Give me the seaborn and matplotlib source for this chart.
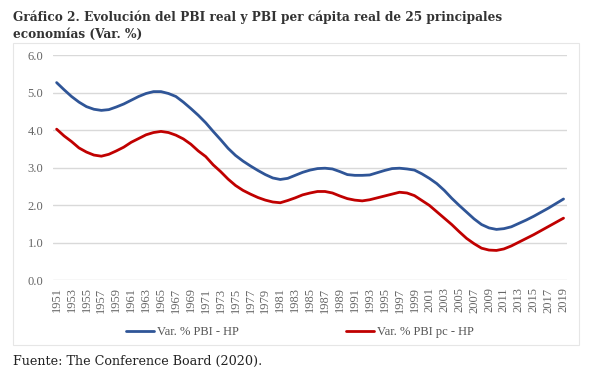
import numpy as np
import pandas as pd
import matplotlib
matplotlib.use("Agg")
import matplotlib.pyplot as plt
import seaborn as sns

# Var. % PBI (HP filtered), 25 major economies
years = list(range(1951, 2020))
pbi = [5.27, 5.08, 4.90, 4.75, 4.63, 4.56, 4.53, 4.55, 4.62, 4.70,
       4.80, 4.90, 4.98, 5.03, 5.03, 4.98, 4.90, 4.75, 4.58, 4.40,
       4.20, 3.97, 3.75, 3.52, 3.33, 3.18, 3.05, 2.93, 2.82, 2.73,
       2.69, 2.72, 2.80, 2.88, 2.94, 2.98, 2.99, 2.97, 2.90, 2.82,
       2.80, 2.80, 2.81, 2.87, 2.93, 2.98, 2.99, 2.97, 2.94, 2.84,
       2.72, 2.58, 2.40, 2.19, 2.00, 1.82, 1.64, 1.49, 1.40, 1.36,
       1.38, 1.43, 1.52, 1.61, 1.71, 1.82, 1.93, 2.05, 2.17]
pbi_pc = [4.03, 3.85, 3.70, 3.53, 3.42, 3.34, 3.31, 3.36, 3.45, 3.55,
          3.68, 3.78, 3.88, 3.94, 3.97, 3.94, 3.87, 3.77, 3.63, 3.45,
          3.30, 3.08, 2.90, 2.70, 2.53, 2.40, 2.30, 2.21, 2.14, 2.09,
          2.07, 2.13, 2.20, 2.28, 2.33, 2.37, 2.37, 2.33, 2.25, 2.18,
          2.14, 2.12, 2.15, 2.20, 2.25, 2.30, 2.35, 2.33, 2.26, 2.13,
          2.00, 1.83, 1.66, 1.49, 1.30, 1.12, 0.98, 0.86, 0.81, 0.80,
          0.84, 0.92, 1.02, 1.12, 1.22, 1.33, 1.44, 1.55, 1.66]
series_names = ["Var. % PBI - HP", "Var. % PBI pc - HP"]
colors = ["#2F5597", "#C00000"]

df = pd.DataFrame({"year": years, series_names[0]: pbi, series_names[1]: pbi_pc})
long = df.melt(id_vars="year", var_name="serie", value_name="valor")

sns.set_style("white")
plt.rcParams["font.family"] = ["Liberation Serif", "DejaVu Serif"]

fig = plt.figure(figsize=(6.08, 3.78), dpi=100)
ax = fig.add_axes([0.087, 0.258, 0.846, 0.596])

sns.lineplot(data=long, x="year", y="valor", hue="serie", palette=colors,
             linewidth=2.0, ax=ax, legend=False)

ax.set_xlim(1950.5, 2019.5)
ax.set_ylim(0, 6)
ax.set_yticks(np.arange(0, 6.01, 1.0))
ax.set_yticklabels([f"{v:.1f}" for v in np.arange(0, 6.01, 1.0)])
ax.set_xticks(years[::2])
ax.set_xticklabels([str(y) for y in years[::2]], rotation=90)
ax.tick_params(axis="both", length=0, colors="#666666", labelsize=9)
ax.tick_params(axis="y", pad=7)
ax.tick_params(axis="x", pad=5)
ax.grid(axis="y", color="#d9d9d9", linewidth=1.0)
ax.set_axisbelow(True)
for s in ax.spines.values():
    s.set_visible(False)
ax.set_xlabel("")
ax.set_ylabel("")

# legend
handles = [plt.Line2D([], [], color=c, linewidth=2.0) for c in colors]
leg = fig.legend(handles, series_names, loc="center", ncol=2,
                 bbox_to_anchor=(0.493, 0.122), frameon=False, fontsize=9,
                 handlelength=2.25, handletextpad=0.2, columnspacing=8.6,
                 labelcolor="#555555")

# chart border
fig.patches.append(plt.Rectangle((13 / 608, 1 - 345 / 378), (579 - 13) / 608,
                                 (345 - 43) / 378, transform=fig.transFigure,
                                 fill=False, edgecolor="#e6e6e6", linewidth=0.8))

fig.text(0.021, 0.972, "Gráfico 2. Evolución del PBI real y PBI per cápita real de 25 principales\neconomías (Var. %)",
         ha="left", va="top", fontsize=8.7, fontweight="bold", color="#333333",
         family=["DejaVu Serif"], linespacing=1.35)
fig.text(0.021, 0.045, "Fuente: The Conference Board (2020).", ha="left", va="center",
         fontsize=9.2, color="#222222", family=["DejaVu Serif"])

fig.savefig("out.png", dpi=100)
